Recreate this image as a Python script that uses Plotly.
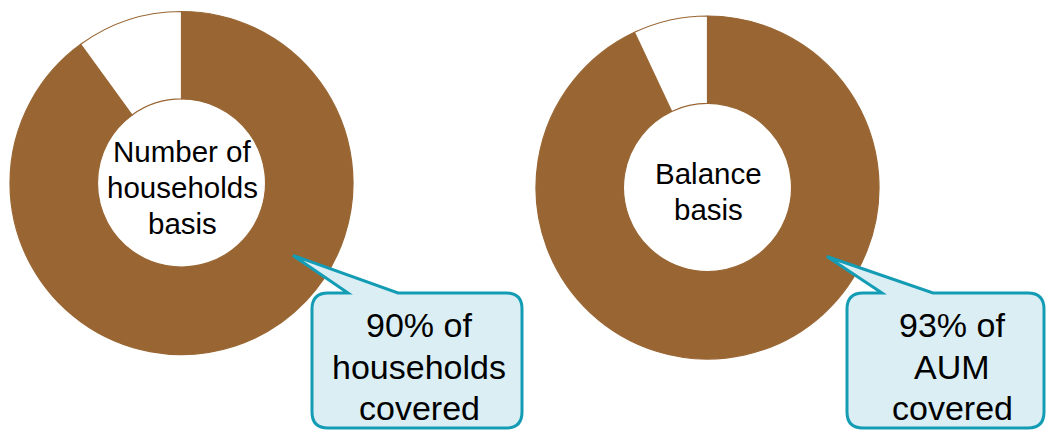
import math
import plotly.graph_objects as go

W, H = 1046, 430

# Coverage shares (covered vs. not covered)
slice_labels = ["Covered", "Not covered"]
household_share = [90, 10]
aum_share = [93, 7]

center_titles = [["Number of", "households", "basis"], ["Balance", "basis"]]
callout_nouns = ["households", "AUM"]

BROWN = "#996633"
TEAL = "#149CB5"
CALLOUT_FILL = "#DAEEF4"
FONT = "Liberation Sans, Arial, sans-serif"

# Donut geometry in pixels: centre x, centre y, outer radius, title centre
donuts = [
    dict(cx=181.5, cy=183.0, r=171.5, tip_angle=123, tip_r=133, ty=187.5),
    dict(cx=707.5, cy=187.5, r=171.5, tip_angle=120, tip_r=138, ty=191.0),
]
HOLE = 0.49

# Callout boxes: left, top, right, bottom, pointer base start/end, text centre x
callouts = [
    dict(x0=312, y0=293, x1=522, y1=428, b0=348, b1=398, tx=419),
    dict(x0=847, y0=293, x1=1044, y1=428, b0=882, b1=933, tx=952),
]
CORNER = 16

fig = go.Figure()

for d, vals in zip(donuts, [household_share, aum_share]):
    fig.add_trace(go.Pie(
        labels=slice_labels,
        values=vals,
        hole=HOLE,
        sort=False,
        direction="clockwise",
        rotation=0,
        textinfo="none",
        hoverinfo="label+percent",
        marker=dict(colors=[BROWN, "#FFFFFF"], line=dict(color=BROWN, width=1.2)),
        domain=dict(
            x=[(d["cx"] - d["r"]) / W, (d["cx"] + d["r"]) / W],
            y=[1 - (d["cy"] + d["r"]) / H, 1 - (d["cy"] - d["r"]) / H],
        ),
        showlegend=False,
    ))


def callout_path(c, tip):
    x0, y0, x1, y1, r = c["x0"], c["y0"], c["x1"], c["y1"], CORNER
    tx, ty = tip
    return (
        f"M {x0 + r},{y0} L {c['b0']},{y0} L {tx},{ty} L {c['b1']},{y0} "
        f"L {x1 - r},{y0} Q {x1},{y0} {x1},{y0 + r} "
        f"L {x1},{y1 - r} Q {x1},{y1} {x1 - r},{y1} "
        f"L {x0 + r},{y1} Q {x0},{y1} {x0},{y1 - r} "
        f"L {x0},{y0 + r} Q {x0},{y0} {x0 + r},{y0} Z"
    )


def text_block(lines, xc, yc, size, spacing):
    n = len(lines)
    out = []
    for i, line in enumerate(lines):
        out.append(dict(
            x=xc, y=yc + (i - (n - 1) / 2) * spacing, xref="x", yref="y",
            text=line, showarrow=False, xanchor="center", yanchor="middle",
            font=dict(family=FONT, size=size, color="#000000"),
        ))
    return out


shapes = []
annotations = []
for d, c, vals, title, noun in zip(donuts, callouts, [household_share, aum_share],
                                   center_titles, callout_nouns):
    a = math.radians(d["tip_angle"])
    tip = (d["cx"] + d["tip_r"] * math.sin(a), d["cy"] - d["tip_r"] * math.cos(a))
    shapes.append(dict(
        type="path", xref="x", yref="y", path=callout_path(c, tip),
        fillcolor=CALLOUT_FILL, line=dict(color=TEAL, width=3), layer="above",
    ))
    annotations += text_block(title, d["cx"] + 1, d["ty"], 29.5, 36)
    annotations += text_block([f"{vals[0]}% of", noun, "covered"],
                              c["tx"], (c["y0"] + c["y1"]) / 2 + 6, 34, 41.5)

fig.update_layout(
    width=W, height=H,
    margin=dict(l=0, r=0, t=0, b=0),
    paper_bgcolor="white", plot_bgcolor="rgba(0,0,0,0)",
    xaxis=dict(range=[0, W], visible=False, fixedrange=True),
    yaxis=dict(range=[H, 0], visible=False, fixedrange=True),
    shapes=shapes, annotations=annotations,
    showlegend=False,
)

fig.write_html("out.html")
